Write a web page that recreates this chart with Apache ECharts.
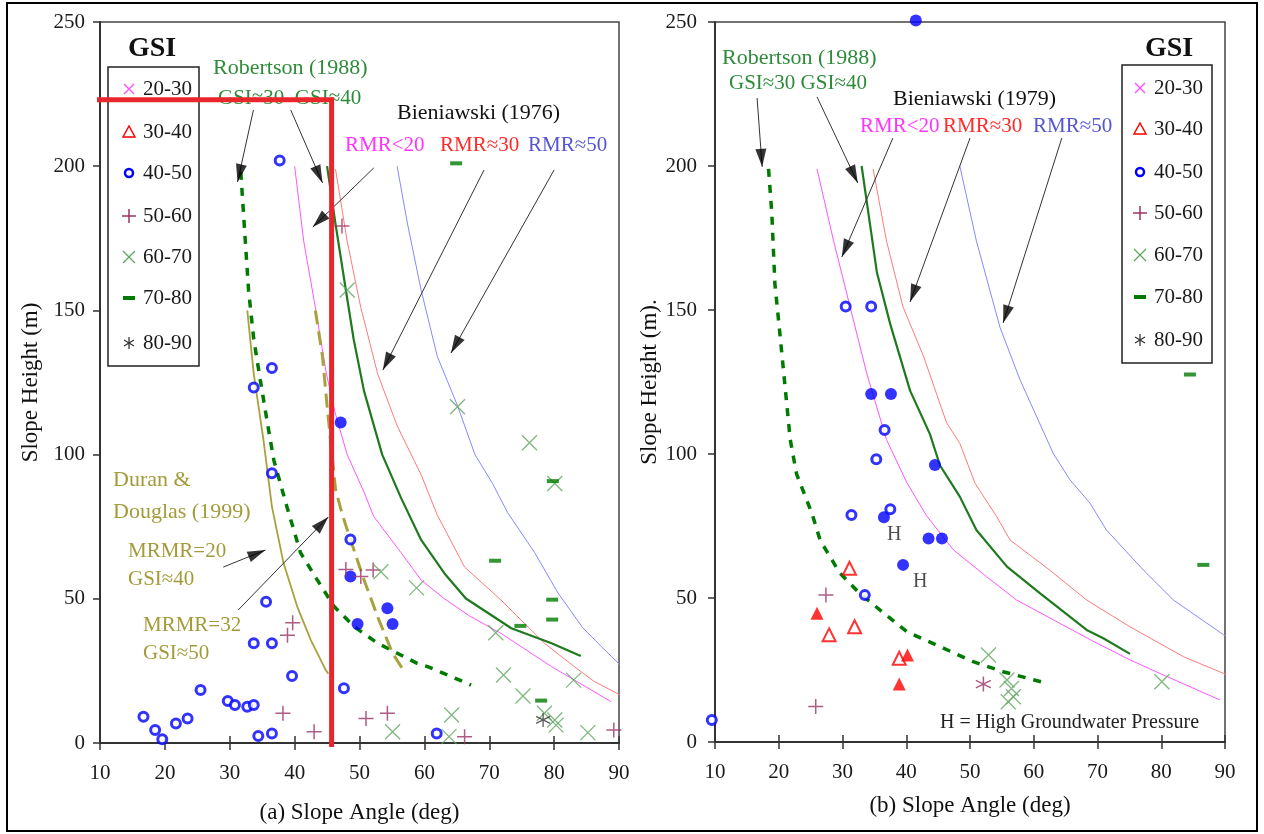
<!DOCTYPE html>
<html><head><meta charset="utf-8">
<script src="https://cdn.jsdelivr.net/npm/echarts@6/dist/echarts.min.js"></script>
<style>html,body{margin:0;padding:0;background:#fff}#chart{width:1264px;height:834px}</style>
</head><body><div id="chart"></div>
<script>
// ---------- tick labels ----------
const xTicks = [10, 20, 30, 40, 50, 60, 70, 80, 90];
const yTicks = [0, 50, 100, 150, 200, 250];
const gsiClasses = ['20-30', '30-40', '40-50', '50-60', '60-70', '70-80', '80-90'];

// ---------- (a) left panel: design curves [slope angle, slope height] ----------
const aRMR20 = [[40,200],[41.4,174],[43.2,151],[44.9,128],[46.3,114],[48.1,100],[50.7,87],[52.2,78.5],[56.4,66],[59.5,56.5],[63.1,50],[67,44],[71.8,38],[79.6,26.5],[88.8,14.3]];
const aRMR30 = [[46.3,199],[48.1,174],[50.2,151],[52.8,128],[55.8,110],[59.5,93],[62,79],[66.2,61],[71.8,49.6],[78.5,34.6],[83.1,26.5],[86.2,21.3],[92.2,14.3]];
const aRMR50 = [[55.8,200],[57.4,180],[59.5,157],[62,134],[65.1,117],[67.8,100],[70.5,90],[72.8,80],[77,66],[80.6,52],[84.4,40],[87.3,33.4],[90.2,27],[94.2,17.2]];
const aRob40 = [[45,200],[46.3,180],[47.9,157],[49.1,140],[50.7,122],[53.5,100],[56.4,85],[59.5,70.4],[63.1,58.8],[66.4,50.1],[73.4,39.8],[79.6,34.6],[84.1,30.2]];
const aRob30 = [[31.7,198],[32.4,174],[32.9,157],[33.7,140],[34.7,126],[35.8,111],[36.8,98],[38.8,82],[40.9,66],[43.5,56.5],[46.1,47.3],[49.2,40.3],[52.8,34.6],[58.9,27.6],[60.5,26.5],[67.2,20.1]];
const aDuran20 = [[32.7,150],[33.7,128],[35.2,105],[36.5,82],[38.3,62.3],[40.4,47.3],[42.5,35.7],[44.8,25.3],[45.2,24]];
const aDuran32 = [[43.2,150],[44.3,134],[45,117],[46.3,88],[47.3,79.6],[48.1,74],[50.7,56.5],[53,42.6],[55.1,31.1],[57.1,24.1]];

// ---------- (a) left panel: case histories ----------
const a40open = [[37.7,202],[36.5,130],[33.7,123.3],[36.5,93.5],[48.6,70.6],[35.6,49],[33.7,34.6],[36.5,34.6],[39.6,23.2],[25.5,18.4],[47.6,19],[29.7,14.6],[30.8,13.2],[32.7,12.6],[33.7,13.2],[16.7,9.1],[23.5,8.5],[21.7,6.8],[18.5,4.5],[19.6,1.3],[34.4,2.4],[36.5,3.3],[61.9,3.3]];
const a40fill = [[47.1,111.1],[48.6,57.7],[54.3,46.7],[49.7,41.3],[55.1,41.3]];
const a50plus = [[47.3,179.3],[39.7,41.7],[38.9,37.4],[47.9,60.2],[50.2,57.7],[52.1,60],[38.2,10.3],[43,3.9],[51,8.5],[54.3,10.3],[66.2,2.2],[89.2,4.5]];
const a60x = [[48.1,157.1],[53.3,59.4],[55.1,3.9],[58.8,53.8],[65.1,116.6],[76.2,104.1],[80.1,90],[71,38.2],[72.2,23.6],[75.2,16.3],[83,21.8],[64.2,9.7],[63.8,2.2],[78.5,10.3],[80.1,8],[80.3,6.2],[85.2,3.6]];
const a70dash = [[64.9,201],[70.9,63.2],[79.7,49.7],[79.7,42.8],[74.8,40.6],[78,14.7],[79.8,90.8]];
const a80ast = [[78.3,8]];
const aHighlight = [[9.7,223],[45.7,223],[45.7,-0.5]];

// ---------- (b) right panel: design curves ----------
const bRMR20 = [[26,199],[28.6,174],[31.2,151],[33.8,128],[36.9,105],[40.1,90],[43.2,78.5],[47.4,66.7],[52.6,57.4],[57.3,49.3],[64.1,41.2],[69.3,35],[75.1,28.5],[79.8,23.8],[89.2,14.6]];
const bRMR30 = [[34.8,199],[36.9,174],[39.5,151],[42.7,134],[46.3,111],[48.4,103.7],[50.8,89.8],[54.2,78.2],[56.3,70.1],[62.5,59.7],[68.3,49.3],[75.1,40],[83.5,29.6],[89.8,23.8],[93.1,20.1]];
const bRMR50 = [[48.4,200],[51,174],[54.7,144],[57.8,126],[63.1,100],[65.7,91],[68.8,83],[71.4,73.6],[77.2,59.7],[81.9,49.3],[89.8,37.2],[94.2,32.2]];
const bRob40 = [[33,200],[34.3,180],[35.4,163],[37.5,145],[40.6,122],[43.7,107],[45.3,96],[48.4,85.2],[51,73.6],[55.8,60.9],[61,51.6],[68.3,38.9],[70.9,36],[75.1,30.6]];
const bRob30 = [[18.4,199],[18.9,184],[19.4,159],[19.9,148],[20.7,130],[21.8,105],[22.8,93],[25.2,79.4],[26.5,70],[29.6,58.6],[32.7,51.6],[35.9,45.8],[40.1,38.3],[45.3,33.1],[50.5,27.9],[55.2,24.4],[62,20.4]];

// ---------- (b) right panel: case histories ----------
const b40open = [[30.5,151.2],[34.5,151.2],[36.6,108.3],[35.3,98.2],[31.4,78.8],[37.5,80.8],[33.5,51],[9.5,7.6]];
const b40fill = [[41.5,250.5],[34.5,120.8],[37.6,120.8],[44.5,96.2],[36.5,78],[43.5,70.7],[45.6,70.7],[39.5,61.5]];
const b30open = [[31.1,60.3],[31.9,40],[27.9,37.2],[38.9,29.1]];
const b30fill = [[26,44.7],[40.2,30.2],[38.9,20.1]];
const b50plus = [[27.4,51],[25.8,12.3]];
const b50ast = [[52.1,20.1]];
const b60x = [[52.9,30.2],[55.8,21.5],[56.5,18.6],[56.8,15.7],[56,14],[80.1,20.9]];
const b70dash = [[84.5,127.6],[86.6,61.5]];
const bHigh = [[38.1,71.9],[42.2,55.7]];

// ---------- annotation arrows [from, to] in data units ----------
const aArrows = [[[33.65,219.5],[31.2,194.5]],[[39.4,219.5],[44.3,194.2]],[[52.2,199.4],[42.8,178.9]],[[69.2,198.7],[53.6,129.3]],[[80,198.7],[64.1,135.2]],[[29,61],[35.5,66.9]],[[31.3,46.1],[45.2,78.4]]];
const bArrows = [[[16.6,223.6],[17.4,199.7]],[[26,224],[32.4,194.1]],[[37.9,209.7],[29.9,168.4]],[[50,209.7],[40.6,152.8]],[[64.4,209.7],[55.2,145.5]]];

// ---------- styling ----------
const FONT = '"Liberation Serif","DejaVu Serif",serif';
const C = {
  mag: '#ff55ff', red: '#ff7a7a', blue: '#8888ff', green: '#1f7a1f', dgreen: '#007a00',
  olive: '#a8a23e', pblue: '#0000ff', purple: '#993366', lgreen: '#5fa55f', tri: '#ff0000'
};
const SYM_X = 'path://M0,0L10,10M10,0L0,10';
const SYM_PLUS = 'path://M5,0L5,10M0,5L10,5';
const SYM_AST = 'path://M5,0L5,10M0.7,2.5L9.3,7.5M0.7,7.5L9.3,2.5';
const HEAD = 'path://M5,0L10,17L0,17Z';
const HEAD_W = 11, HEAD_H = 18;
const RING = { color: '#ffffff', borderColor: '#0000ff', borderWidth: 3 };

function curve(data, xi, yi, color, width, type) {
  return { type: 'line', xAxisIndex: xi, yAxisIndex: yi, data: data, symbol: 'none', showSymbol: false,
    clip: false, silent: true, z: 2, lineStyle: { color: color, width: width, type: type || 'solid' } };
}
function pts(data, xi, yi, symbol, size, style) {
  return { type: 'scatter', xAxisIndex: xi, yAxisIndex: yi, data: data, symbol: symbol, symbolSize: size,
    clip: false, silent: true, z: 3, itemStyle: style };
}
function strokeOnly(c, w) { return { color: 'rgba(0,0,0,0)', borderColor: c, borderWidth: w }; }
function arrowLines(list, xi, yi) {
  return { type: 'line', xAxisIndex: xi, yAxisIndex: yi, data: [], silent: true, z: 4,
    markLine: { silent: true, animation: false, symbol: ['none', 'none'],
      lineStyle: { color: '#333', width: 1, type: 'solid' },
      label: { show: false }, emphasis: { disabled: true },
      data: list.map(a => [{ coord: a[0] }, { coord: a[1] }]) } };
}

const series = [
  // (a)
  curve(aRMR20, 0, 0, C.mag, 1), curve(aRMR30, 0, 0, C.red, 1), curve(aRMR50, 0, 0, C.blue, 1),
  curve(aRob40, 0, 0, C.green, 2.2), curve(aRob30, 0, 0, C.dgreen, 3.5, [8, 8]),
  curve(aDuran20, 0, 0, C.olive, 1.8), curve(aDuran32, 0, 0, C.olive, 3, [14, 7]),
  pts(a40open, 0, 0, 'circle', 9, RING),
  pts(a40fill, 0, 0, 'circle', 12, { color: C.pblue }),
  pts(a50plus, 0, 0, SYM_PLUS, 15, strokeOnly(C.purple, 1.5)),
  pts(a60x, 0, 0, SYM_X, 15, strokeOnly(C.lgreen, 1.3)),
  pts(a70dash, 0, 0, 'rect', [12, 4], { color: C.dgreen }),
  pts(a80ast, 0, 0, SYM_AST, 14, strokeOnly('#333', 1.3)),
  arrowLines(aArrows, 0, 0),
  { type: 'line', xAxisIndex: 0, yAxisIndex: 0, data: aHighlight, symbol: 'none', clip: false, silent: true, z: 10,
    lineStyle: { color: '#e8262b', width: 5, cap: 'square', join: 'miter' } },
  // (b)
  curve(bRMR20, 2, 1, C.mag, 1), curve(bRMR30, 2, 1, C.red, 1), curve(bRMR50, 2, 1, C.blue, 1),
  curve(bRob40, 2, 1, C.green, 2.2), curve(bRob30, 2, 1, C.dgreen, 3.5, [8, 8]),
  pts(b40open, 2, 1, 'circle', 9, RING),
  pts(b40fill, 2, 1, 'circle', 12, { color: C.pblue }),
  pts(b30open, 2, 1, 'emptyTriangle', 13, { color: C.tri, borderWidth: 1.5 }),
  pts(b30fill, 2, 1, 'triangle', 13, { color: C.tri }),
  pts(b50plus, 2, 1, SYM_PLUS, 15, strokeOnly(C.purple, 1.5)),
  pts(b50ast, 2, 1, SYM_AST, 15, strokeOnly(C.purple, 1.5)),
  pts(b60x, 2, 1, SYM_X, 15, strokeOnly(C.lgreen, 1.3)),
  pts(b70dash, 2, 1, 'rect', [12, 4], { color: C.dgreen }),
  { type: 'scatter', xAxisIndex: 2, yAxisIndex: 1, data: bHigh, symbolSize: 0, silent: true, z: 3,
    label: { show: true, formatter: 'H', position: 'inside', color: '#222', fontFamily: FONT, fontSize: 20 } },
  arrowLines(bArrows, 2, 1)
];

const xMin = xTicks[0], xMax = xTicks[xTicks.length - 1], xInt = xTicks[1] - xTicks[0];
const yMin = yTicks[0], yMax = yTicks[yTicks.length - 1], yInt = yTicks[1] - yTicks[0];
const axisCol = '#333';
function xAxisMain(grid, name, gap) {
  return { type: 'value', gridIndex: grid, min: xMin, max: xMax, interval: xInt, position: 'bottom',
    name: name, nameLocation: 'middle', nameGap: gap,
    nameTextStyle: { fontFamily: FONT, fontSize: 23, color: '#111' },
    axisLine: { show: true, onZero: false, lineStyle: { color: axisCol, width: 2 } },
    axisTick: { show: true, inside: false, length: 7, lineStyle: { color: axisCol, width: 1.5 } },
    axisLabel: { margin: 20, fontFamily: FONT, fontSize: 21, color: '#1a1a1a', showMinLabel: true, showMaxLabel: true },
    splitLine: { show: false } };
}
function xAxisInner(grid) {
  return { type: 'value', gridIndex: grid, min: xMin, max: xMax, interval: xInt, position: 'bottom',
    axisLine: { show: false }, axisLabel: { show: false }, splitLine: { show: false },
    axisTick: { show: true, inside: true, length: 7, lineStyle: { color: axisCol, width: 1.5 } } };
}
function yAxis(grid, name, gap, margin) {
  return { type: 'value', gridIndex: grid, min: yMin, max: yMax, interval: yInt,
    name: name, nameLocation: 'middle', nameGap: gap, nameRotate: 90,
    nameTextStyle: { fontFamily: FONT, fontSize: 23, color: '#111' },
    axisLine: { show: true, lineStyle: { color: axisCol, width: 2 } },
    axisTick: { show: true, inside: false, length: 7, lineStyle: { color: axisCol, width: 1.5 } },
    axisLabel: { margin: margin, fontFamily: FONT, fontSize: 21, color: '#1a1a1a' },
    splitLine: { show: false } };
}

// ---------- legend boxes and annotation text ----------
function txt(x, y, text, color, size, weight, align) {
  return { type: 'text', x: x, y: y, z: 1, silent: true,
    style: { text: text, fill: color, font: (weight || 'normal') + ' ' + size + 'px ' + FONT,
      align: align || 'left', textAlign: align || 'left', verticalAlign: 'middle', textVerticalAlign: 'middle' } };
}
function seg(x1, y1, x2, y2, c, w) {
  return { type: 'line', silent: true, shape: { x1: x1, y1: y1, x2: x2, y2: y2 }, style: { stroke: c, lineWidth: w } };
}
function legendSym(cls, cx, cy) {
  switch (cls) {
    case '20-30': return [seg(cx-5,cy-5,cx+5,cy+5,C.mag,1.4), seg(cx-5,cy+5,cx+5,cy-5,C.mag,1.4)];
    case '30-40': return [{ type: 'polygon', silent: true, shape: { points: [[cx,cy-6],[cx+6,cy+5],[cx-6,cy+5]] }, style: { fill: 'none', stroke: C.tri, lineWidth: 1.5 } }];
    case '40-50': return [{ type: 'circle', silent: true, shape: { cx: cx, cy: cy, r: 4 }, style: { fill: 'none', stroke: C.pblue, lineWidth: 2.5 } }];
    case '50-60': return [seg(cx-7,cy,cx+7,cy,C.purple,1.5), seg(cx,cy-7,cx,cy+7,C.purple,1.5)];
    case '60-70': return [seg(cx-6,cy-6,cx+6,cy+6,C.lgreen,1.3), seg(cx-6,cy+6,cx+6,cy-6,C.lgreen,1.3)];
    case '70-80': return [{ type: 'rect', silent: true, shape: { x: cx-6, y: cy-2, width: 12, height: 4 }, style: { fill: C.dgreen } }];
    default: return [seg(cx,cy-6,cx,cy+6,'#333',1.3), seg(cx-5,cy-3,cx+5,cy+3,'#333',1.3), seg(cx-5,cy+3,cx+5,cy-3,'#333',1.3)];
  }
}
function legendBox(bx, by, bw, bh, titleX, titleY, symX, textX, ys) {
  const els = [{ type: 'rect', silent: true, shape: { x: bx, y: by, width: bw, height: bh }, style: { fill: 'none', stroke: '#222', lineWidth: 1.5 } },
    txt(titleX, titleY, 'GSI', '#111', 28, 'bold', 'center')];
  gsiClasses.forEach((cls, i) => {
    els.push(...legendSym(cls, symX, ys[i]));
    els.push(txt(textX, ys[i], cls, '#1a1a1a', 21));
  });
  return els;
}

const ROB = '#2e8b3a', OLV = '#a39b3a';
const graphics = [
  { type: 'rect', silent: true, shape: { x: 7, y: 3, width: 1250, height: 828 }, style: { fill: 'none', stroke: '#000', lineWidth: 2 } },
  ...legendBox(108, 67, 91, 299, 152, 49, 129, 143, [89, 132, 173, 216, 257, 298, 343]),
  ...legendBox(1122, 65, 90, 298, 1169, 49, 1140, 1154, [88, 129, 172, 213, 255, 297, 340]),
  // (a) annotations
  txt(213, 68, 'Robertson (1988)', ROB, 22),
  txt(218, 98, 'GSI≈30  GSI≈40', ROB, 21),
  txt(397, 113, 'Bieniawski (1976)', '#111', 22),
  txt(345, 145, 'RMR<20', '#ff33ff', 21),
  txt(440, 145, 'RMR≈30', '#ff2a2a', 21),
  txt(528, 145, 'RMR≈50', '#5555d5', 21),
  txt(113, 480, 'Duran &', OLV, 22),
  txt(113, 512, 'Douglas (1999)', OLV, 22),
  txt(128, 551, 'MRMR=20', OLV, 21),
  txt(128, 579, 'GSI≈40', OLV, 21),
  txt(143, 625, 'MRMR=32', OLV, 21),
  txt(143, 653, 'GSI≈50', OLV, 21),
  // (b) annotations
  txt(722, 58, 'Robertson (1988)', ROB, 22),
  txt(729, 83, 'GSI≈30 GSI≈40', ROB, 21),
  txt(893, 99, 'Bieniawski (1979)', '#111', 22),
  txt(860, 126, 'RMR<20', '#ff33ff', 21),
  txt(943, 126, 'RMR≈30', '#ff2a2a', 21),
  txt(1033, 126, 'RMR≈50', '#5555d5', 21),
  txt(940, 723, 'H = High Groundwater Pressure', '#222', 20)
];

const chart = echarts.init(document.getElementById('chart'), null, { renderer: 'canvas' });
const baseOption = {
  animation: false,
  backgroundColor: '#fff',
  grid: [
    { left: 100, top: 22, width: 519, height: 721, show: true, borderColor: '#444', borderWidth: 1.5, backgroundColor: 'transparent', outerBoundsMode: 'none' },
    { left: 715, top: 22, width: 510, height: 720, show: true, borderColor: '#444', borderWidth: 1.5, backgroundColor: 'transparent', outerBoundsMode: 'none' }
  ],
  xAxis: [xAxisMain(0, '(a) Slope Angle (deg)', 58), xAxisInner(0), xAxisMain(1, '(b) Slope Angle (deg)', 52), xAxisInner(1)],
  yAxis: [yAxis(0, 'Slope Height (m)', 58, 15), yAxis(1, 'Slope Height (m).', 50, 18)],
  graphic: { elements: graphics },
  series: series
};
chart.setOption(baseOption);

// Arrowheads: oriented along each arrow using the library's own pixel mapping.
function heads(list, xi, yi) {
  const finder = { xAxisIndex: xi, yAxisIndex: yi };
  const data = list.map(a => {
    const p0 = chart.convertToPixel(finder, a[0]);
    const p1 = chart.convertToPixel(finder, a[1]);
    const dx = p1[0] - p0[0], dy = p1[1] - p0[1];
    const len = Math.sqrt(dx * dx + dy * dy) || 1;
    const ux = dx / len, uy = dy / len;
    const ang = Math.atan2(-dy, dx) * 180 / Math.PI - 90;
    return { value: a[1], symbolRotate: ang, symbolOffset: [-ux * HEAD_H / 2, -uy * HEAD_H / 2] };
  });
  return { type: 'scatter', xAxisIndex: xi, yAxisIndex: yi, data: data, symbol: HEAD,
    symbolSize: [HEAD_W, HEAD_H], clip: false, silent: true, z: 5, itemStyle: { color: '#000' } };
}
chart.setOption({ series: series.concat([heads(aArrows, 0, 0), heads(bArrows, 2, 1)]) });
</script></body></html>
